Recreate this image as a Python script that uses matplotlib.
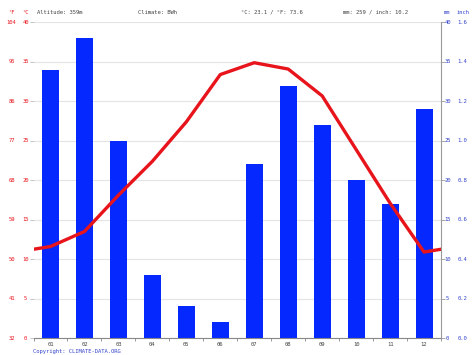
import numpy as np
import matplotlib
matplotlib.use("Agg")
import matplotlib.pyplot as plt

months = ["01", "02", "03", "04", "05", "06", "07", "08", "09", "10", "11", "12"]
precip_mm = [34, 38, 25, 8, 4, 2, 22, 32, 27, 20, 17, 29]
temp_c = [11.6, 13.5, 18.1, 22.4, 27.4, 33.4, 34.9, 34.1, 30.7, 23.9, 17.1, 10.9]
c_ticks = [0, 5, 10, 15, 20, 25, 30, 35, 40]
f_labels = ["32", "41", "50", "59", "68", "77", "86", "95", "104"]
inch_labels = ["0.0", "0.2", "0.4", "0.6", "0.8", "1.0", "1.2", "1.4", "1.6"]

red = "#e8141c"
blue = "#3344cc"
grey = "#444444"
fs = 4.0
mono = "DejaVu Sans Mono"

W = 407.5
fig = plt.figure(figsize=(4.74, 3.55), dpi=100)
ax = fig.add_axes([33.5 / 474, 17 / 355, W / 474, 315.5 / 355])

x = np.arange(1, 13)
ax.bar(x, precip_mm, width=0.5, color="#0528ff", zorder=2)

# line wraps round the year at both edges
edge = (temp_c[0] + temp_c[-1]) / 2
lx = np.concatenate([[0.5], x, [12.5]])
ly = np.concatenate([[edge], temp_c, [edge]])
ax.plot(lx, ly, color=red, lw=2.4, zorder=3, solid_joinstyle="round")

ax.set_xlim(0.5, 12.5)
ax.set_ylim(0, 40)
for t in c_ticks:
    ax.axhline(t, color="#e4e4e4", lw=0.8, zorder=1)

for s in ["top", "left", "right"]:
    ax.spines[s].set_visible(False)
ax.spines["bottom"].set_color("#888888")
ax.spines["bottom"].set_linewidth(0.8)

ax.set_xticks(np.arange(0.5, 13, 1))
ax.set_xticklabels([])
ax.set_xticks(x, minor=True)
ax.set_xticklabels(months, minor=True, fontsize=fs, family=mono, color=grey)
ax.tick_params(axis="x", which="major", length=2, color="#888888", width=0.6)
ax.tick_params(axis="x", which="minor", length=0, pad=3)

ax.set_yticks(c_ticks)
ax.set_yticklabels([])
ax.tick_params(axis="y", length=3, color="#bbbbbb", width=0.6)

trans = ax.get_yaxis_transform()
for t, f in zip(c_ticks, f_labels):
    ax.text(-22 / W, t, f, transform=trans, fontsize=fs, family=mono, color=red,
            ha="center", va="center")
    ax.text(-8 / W, t, str(t), transform=trans, fontsize=fs, family=mono, color=red,
            ha="center", va="center")

ax2 = ax.twinx()
ax2.set_ylim(0, 40)
ax2.set_yticks(c_ticks)
ax2.set_yticklabels([])
for s in ["top", "left", "bottom"]:
    ax2.spines[s].set_visible(False)
ax2.spines["right"].set_color("#999999")
ax2.spines["right"].set_linewidth(0.8)
ax2.tick_params(axis="y", length=3, color="#999999", width=0.6)
trans2 = ax2.get_yaxis_transform()
for t, lab in zip(c_ticks, inch_labels):
    ax2.text(1 + 6.5 / W, t, str(t), transform=trans2, fontsize=fs, family=mono,
             color=blue, ha="center", va="center")
    ax2.text(1 + 21.5 / W, t, lab, transform=trans2, fontsize=fs, family=mono,
             color=blue, ha="center", va="center")

# header row
hy = 1 - 12 / 355
fig.text(11.5 / 474, hy, "°F", fontsize=fs, family=mono, color=red, ha="center", va="center")
fig.text(25.5 / 474, hy, "°C", fontsize=fs, family=mono, color=red, ha="center", va="center")
fig.text(37 / 474, hy, "Altitude: 359m", fontsize=fs, family=mono, color=grey, va="center")
fig.text(138 / 474, hy, "Climate: BWh", fontsize=fs, family=mono, color=grey, va="center")
fig.text(241 / 474, hy, "°C: 23.1 / °F: 73.6", fontsize=fs, family=mono, color=grey, va="center")
fig.text(343 / 474, hy, "mm: 259 / inch: 10.2", fontsize=fs, family=mono, color=grey, va="center")
fig.text(447.5 / 474, hy, "mm", fontsize=fs, family=mono, color=blue, ha="center", va="center")
fig.text(463 / 474, hy, "inch", fontsize=fs, family=mono, color=blue, ha="center", va="center")
fig.text(33 / 474, 1 - 351 / 355, "Copyright: CLIMATE-DATA.ORG", fontsize=fs, family=mono,
         color=blue, va="center")

fig.savefig("out.png", dpi=100)
